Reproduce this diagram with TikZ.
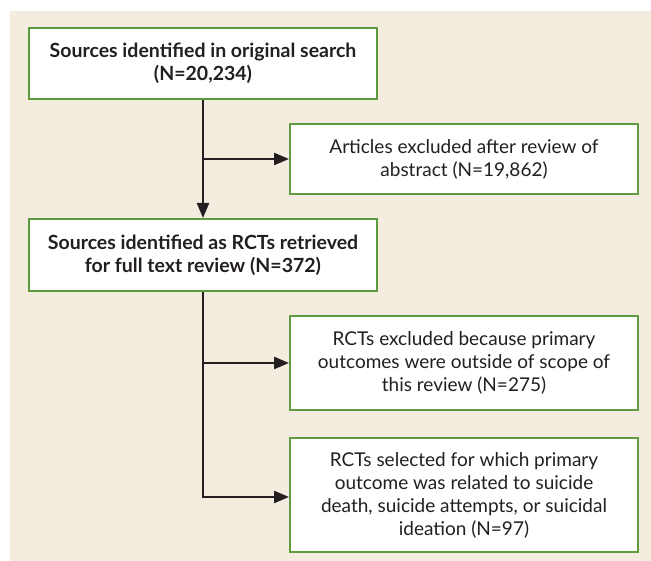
\documentclass[tikz,border=0pt]{standalone}
\usepackage{fontspec}
\setmainfont{Lato}
\usetikzlibrary{arrows.meta}
\definecolor{bgbeige}{HTML}{F5ECE0}
\definecolor{boxgreen}{HTML}{5C9B3E}
\definecolor{inkdark}{HTML}{231F20}
\tikzset{
  flowbox/.style={draw=boxgreen, line width=2pt, fill=white, text=inkdark,
    minimum width=348pt, align=center, inner sep=0pt,
    font=\fontsize{19}{23}\selectfont},
  boldbox/.style={flowbox, font=\fontsize{19.5}{23}\selectfont\bfseries},
  flowline/.style={draw=inkdark, line width=2.4pt},
  flowarrow/.style={flowline, -{Triangle[length=15pt,width=12pt]}}
}
\begin{document}
\begin{tikzpicture}[x=1pt,y=1pt]
\useasboundingbox (0,0) rectangle (651,561);
\fill[bgbeige] (10,0) rectangle (651,550);
\node[boldbox, minimum height=71pt] (b1) at (203,497.5) {Sources identified in original search\\(N=20,234)};
\node[flowbox, minimum height=70pt] (b2) at (464,402) {Articles excluded after review of\\abstract (N=19,862)};
\node[boldbox, minimum height=72pt] (b3) at (203,306) {Sources identified as RCTs retrieved\\for full text review (N=372)};
\node[flowbox, minimum height=94pt] (b4) at (464,198) {RCTs excluded because primary\\outcomes were outside of scope of\\this review (N=275)};
\node[flowbox, minimum height=114pt] (b5) at (464,66) {RCTs selected for which primary\\outcome was related to suicide\\death, suicide attempts, or suicidal\\ideation (N=97)};
\coordinate (t1) at (b1.south |- b2.west);
\coordinate (t2) at (b3.south |- b4.west);
\coordinate (t3) at (b3.south |- 0,64);
\draw[flowarrow] (b1.south) -- (b3.north);
\draw[flowarrow] (t1) -- (b2.west);
\draw[flowline] (b3.south) -- ([yshift=-1.2pt]t3);
\draw[flowarrow] (t2) -- (b4.west);
\draw[flowarrow] ([xshift=-1.2pt]t3) -- (t3 -| b5.west);
\end{tikzpicture}
\end{document}
